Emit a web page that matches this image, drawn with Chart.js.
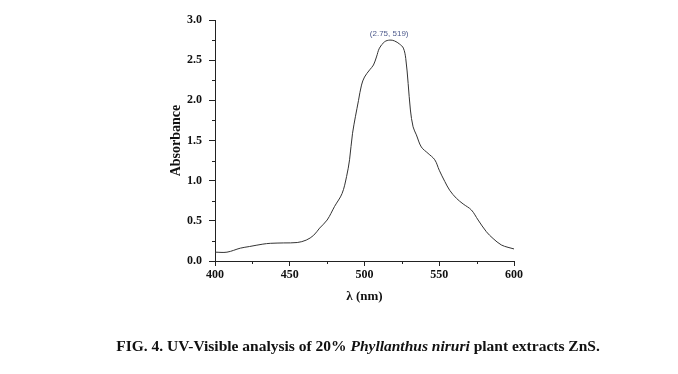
<!DOCTYPE html>
<html>
<head>
<meta charset="utf-8">
<script src="https://cdn.jsdelivr.net/npm/chart.js@4"></script>
<style>
  body { margin: 0; background: #fff; }
  #wrap { position: relative; width: 678px; height: 374px; }
  #caption {
    position: absolute; left: 0; width: 716px; top: 337px;
    text-align: center; font: bold 15.5px "Liberation Serif", serif; color: #111;
  }
</style>
</head>
<body>
<div id="wrap">
  <canvas id="uv_chart" width="678" height="374"></canvas>
  <div id="caption">FIG. 4. UV-Visible analysis of 20% <i>Phyllanthus niruri</i> plant extracts ZnS.</div>
</div>
<script>
// DATA
const wavelength = [400, 408, 417, 423, 432, 437, 446, 455, 461, 466, 470, 475, 480, 485, 488, 490, 492, 496, 498, 500, 503.5, 506, 508, 510, 513.5, 517, 520, 523.5, 526, 527.6, 529.2, 530.7, 532.5, 534.7, 538, 542.5, 547, 550, 553.7, 557, 561.5, 566, 571.5, 576, 581.5, 586, 591.5, 596, 600];
const absorbance = [0.11, 0.11, 0.16, 0.18, 0.21, 0.22, 0.225, 0.23, 0.26, 0.32, 0.41, 0.51, 0.68, 0.84, 1.05, 1.26, 1.59, 2.0, 2.19, 2.29, 2.38, 2.44, 2.54, 2.65, 2.73, 2.75, 2.74, 2.70, 2.65, 2.52, 2.21, 1.88, 1.67, 1.57, 1.42, 1.34, 1.26, 1.13, 0.99, 0.88, 0.78, 0.71, 0.635, 0.51, 0.365, 0.28, 0.20, 0.17, 0.15];
const peak_label = '(2.75, 519)';
const peak_label_pos = [516.5, 2.83];
const x_minor = [425, 475, 525, 575];
const y_minor = [0.25, 0.75, 1.25, 1.75, 2.25, 2.75];

const ctx = document.getElementById('uv_chart').getContext('2d');
const serif = '"Liberation Serif", "Times New Roman", serif';

// minor ticks + peak annotation
const extras = {
  id: 'extras',
  afterDraw(chart) {
    const c = chart.ctx;
    const xs = chart.scales.x, ys = chart.scales.y;
    c.save();
    c.strokeStyle = '#222';
    c.lineWidth = 1;
    x_minor.forEach(v => {
      const px = Math.round(xs.getPixelForValue(v)) + 0.5;
      c.beginPath(); c.moveTo(px, xs.top); c.lineTo(px, xs.top + 3); c.stroke();
    });
    y_minor.forEach(v => {
      const py = Math.round(ys.getPixelForValue(v)) + 0.5;
      c.beginPath(); c.moveTo(ys.right, py); c.lineTo(ys.right - 3, py); c.stroke();
    });
    c.fillStyle = '#4d5a8c';
    c.font = '8px "Liberation Sans", Arial, sans-serif';
    c.textAlign = 'center';
    c.textBaseline = 'middle';
    c.fillText(peak_label, xs.getPixelForValue(peak_label_pos[0]), ys.getPixelForValue(peak_label_pos[1]));
    c.restore();
  }
};

new Chart(ctx, {
  type: 'line',
  data: {
    datasets: [
      {
        label: 'Absorbance',
        data: wavelength.map((w, i) => ({ x: w, y: absorbance[i] })),
        borderColor: '#333',
        borderWidth: 1,
        pointRadius: 0,
        fill: false,
        tension: 0.35,
      },
    ],
  },
  options: {
    responsive: false,
    animation: false,
    layout: { padding: { left: 164, right: 164, top: 20, bottom: 66 } },
    plugins: { legend: { display: false }, tooltip: { enabled: false } },
    scales: {
      x: {
        type: 'linear',
        min: 400,
        max: 600,
        afterFit: s => { s.height = 374 - 261 - 66; },
        ticks: {
          stepSize: 50,
          color: '#111',
          font: { family: serif, weight: 'bold', size: 12 },
          padding: 2,
        },
        grid: { drawOnChartArea: false, tickLength: 5, color: '#222', tickColor: '#222' },
        border: { color: '#222', width: 1 },
        title: {
          display: true,
          text: 'λ (nm)',
          color: '#111',
          font: { family: serif, weight: 'bold', size: 13 },
          padding: { top: 8 },
        },
      },
      y: {
        min: 0,
        max: 3,
        afterFit: s => { s.width = 215 - 164; },
        ticks: {
          stepSize: 0.5,
          color: '#111',
          font: { family: serif, weight: 'bold', size: 12 },
          padding: 7,
          callback: v => v.toFixed(1),
        },
        grid: { drawOnChartArea: false, tickLength: 6, color: '#222', tickColor: '#222' },
        border: { color: '#222', width: 1 },
        title: {
          display: true,
          text: 'Absorbance',
          color: '#111',
          font: { family: serif, weight: 'bold', size: 14 },
          padding: { bottom: 4 },
        },
      },
    },
  },
  plugins: [extras],
});
</script>
</body>
</html>
